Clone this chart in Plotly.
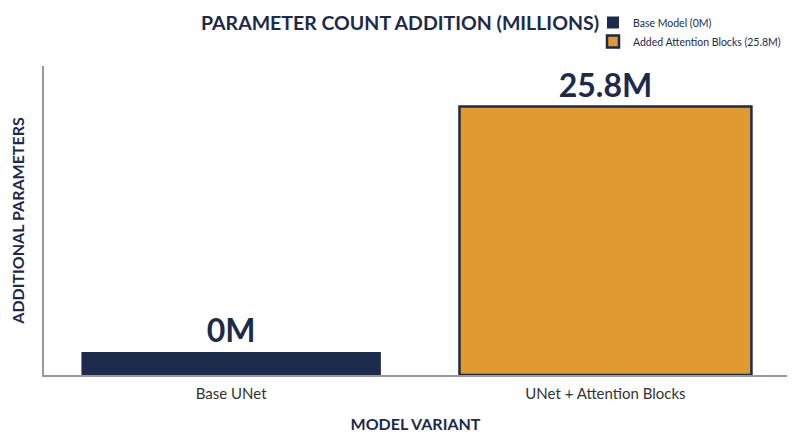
import plotly.graph_objects as go

# ==================== DADOS ====================
categorias = ["Base UNet", "UNet + Attention Blocks"]
alturas = [2.2, 25.8]          # altura visível da barra (M)
rotulos = ["0M", "25.8M"]
legenda = ["Base Model (0M)", "Added Attention Blocks (25.8M)"]

NAVY = "#1c2a4c"
LARANJA = "#e09a31"
FONTE = "Lato"

# a página tem 8px de margem no body -> figura de 784x431
W, H = 784, 431

fig = go.Figure()

fig.add_trace(go.Bar(
    x=[categorias[0]], y=[alturas[0]], name=legenda[0],
    marker=dict(color=NAVY, line=dict(color=NAVY, width=0)),
    width=0.8,
    text=[rotulos[0]], textposition="outside",
    textfont=dict(family=FONTE, size=32, color=NAVY, weight="bold"),
    cliponaxis=False,
))
fig.add_trace(go.Bar(
    x=[categorias[1]], y=[alturas[1]], name=legenda[1],
    marker=dict(color=LARANJA, line=dict(color=NAVY, width=2.5)),
    width=0.78,
    text=[rotulos[1]], textposition="outside",
    textfont=dict(family=FONTE, size=32, color=NAVY, weight="bold"),
    cliponaxis=False,
))

fig.update_layout(
    width=W, height=H,
    template="plotly_white",
    plot_bgcolor="white", paper_bgcolor="white",
    margin=dict(l=36, r=5, t=58, b=64, autoexpand=False),
    barmode="overlay",
    font=dict(family=FONTE, color="#333333"),
    title=dict(
        text="<b>PARAMETER COUNT ADDITION (MILLIONS)</b>",
        font=dict(family=FONTE, size=19.5, color=NAVY),
        x=392 / W, xanchor="center", y=1 - 15 / H, yanchor="middle",
    ),
    legend=dict(
        x=585 / W, xanchor="left", xref="container",
        y=1 + 5 / H, yanchor="top", yref="container",
        font=dict(family=FONTE, size=10.5, color=NAVY),
        bgcolor="rgba(0,0,0,0)", itemwidth=30, tracegroupgap=0,
    ),
    showlegend=True,
)

fig.update_xaxes(
    range=[-0.5, 1.485], automargin=False,
    showline=True, linecolor="#999999", linewidth=1.5,
    showgrid=False, ticks="", ticklabelstandoff=4,
    tickfont=dict(family=FONTE, size=15, color="#333333"),
    title=dict(text="<b>MODEL VARIANT</b>", font=dict(family=FONTE, size=16, color=NAVY), standoff=18),
)
fig.update_yaxes(
    range=[0, 29.7], automargin=False,
    showline=True, linecolor="#999999", linewidth=1.5,
    showgrid=False, showticklabels=False, ticks="", zeroline=False,
    title=dict(text="<b>ADDITIONAL PARAMETERS</b>", font=dict(family=FONTE, size=16, color=NAVY), standoff=14),
)

fig.write_html("out.html")
